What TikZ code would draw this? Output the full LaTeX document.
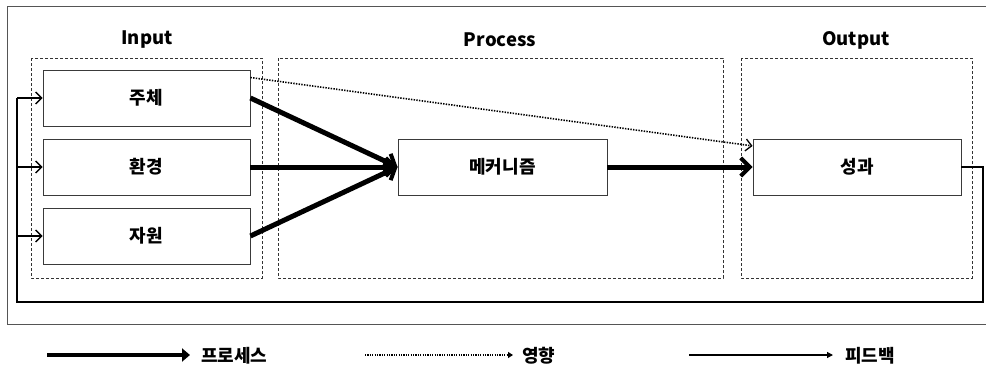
\documentclass[tikz,border=0pt]{standalone}
\usepackage{fontspec}
\setmainfont{Noto Sans CJK KR}
\usetikzlibrary{arrows.meta,calc}
\definecolor{framegray}{HTML}{555555}
\definecolor{boxgray}{HTML}{3A3A3A}
\tikzset{
  stagebox/.style={draw=boxgray,line width=0.9pt,fill=white,minimum width=207pt,minimum height=56pt,inner sep=0pt,font=\fontsize{18}{20}\selectfont\bfseries},
  groupbox/.style={draw=black!80,dashed,dash pattern=on 3pt off 2pt,line width=0.7pt},
  grouplabel/.style={font=\fontsize{18.5}{21}\selectfont\bfseries},
  procarrow/.style={line width=5pt,-{Straight Barb[length=9pt,width=18pt,line width=4pt]}},
  inflarrow/.style={line width=1.6pt,dash pattern=on 1.4pt off 1.3pt,-{Straight Barb[length=6pt,width=12pt,line width=1.3pt]}},
  feedline/.style={line width=2.5pt},
  feedarrow/.style={line width=1.3pt,-{Straight Barb[length=6pt,width=12pt,line width=1.3pt]}},
  legtext/.style={anchor=west,font=\fontsize{18}{20}\selectfont\bfseries,inner sep=0pt}
}
\begin{document}
\begin{tikzpicture}[x=1pt,y=-1pt]
\useasboundingbox (0,0) rectangle (986,367);
\fill[white] (0,0) rectangle (986,367);
% outer frame
\draw[framegray,line width=1pt] (987,6) -- (7,6) -- (7,324) -- (987,324);
% groups
\draw[groupbox] (31,58) rectangle (262,278);
\draw[groupbox] (278,58) rectangle (723,278);
\draw[groupbox] (741,58) rectangle (972,278);
\node[grouplabel] (lin) at (147,40) {Input};
\node[grouplabel] (lpr) at (500,40) {Process};
\node[grouplabel] (lout) at (856,40) {Output};
% boxes
\node[stagebox] (ju) at (146.5,98) {주체};
\node[stagebox] (hw) at (146.5,167) {환경};
\node[stagebox] (ja) at (146.5,236) {자원};
\node[stagebox,minimum width=209pt] (me) at (502.5,167) {메커니즘};
\node[stagebox,minimum width=208pt] (sg) at (857,167) {성과};
% process arrows
\draw[procarrow] (ju.east) -- (me.west);
\draw[procarrow] (hw.east) -- (me.west);
\draw[procarrow] (ja.east) -- (me.west);
\draw[procarrow] (me.east) -- (sg.west);
% influence
\draw[inflarrow] ($(ju.north east)!0.14!(ju.south east)$) -- ($(sg.north west)!0.13!(sg.south west)$);
% feedback
\coordinate (fr) at (983,167);
\coordinate (fb) at (983,302);
\coordinate (fl) at (17,302);
\coordinate (ft) at (17,98);
\draw[feedline,line join=miter] (sg.east) -- (fr) -- (fb) -- (fl) -- (ft);
\draw[feedarrow] (ft) -- (ju.west);
\draw[feedarrow] (17,167) -- (hw.west);
\draw[feedarrow] (17,236) -- (ja.west);
% legend
\coordinate (l1a) at (47,355); \coordinate (l1b) at (190,355);
\coordinate (l2a) at (365,355); \coordinate (l2b) at (513,355);
\coordinate (l3a) at (689,355); \coordinate (l3b) at (833,355);
\draw[line width=4.5pt,-{Triangle[length=8pt,width=13pt]}] (l1a) -- (l1b);
\node[legtext] (t1) at (201,356) {프로세스};
\draw[line width=1.4pt,dash pattern=on 1.2pt off 1.2pt,-{Triangle[length=5pt,width=6pt]}] (l2a) -- (l2b);
\node[legtext] (t2) at (522,356) {영향};
\draw[line width=1.2pt,-{Triangle[length=6pt,width=6pt]}] (l3a) -- (l3b);
\node[legtext] (t3) at (845,356) {피드백};
\end{tikzpicture}
\end{document}
